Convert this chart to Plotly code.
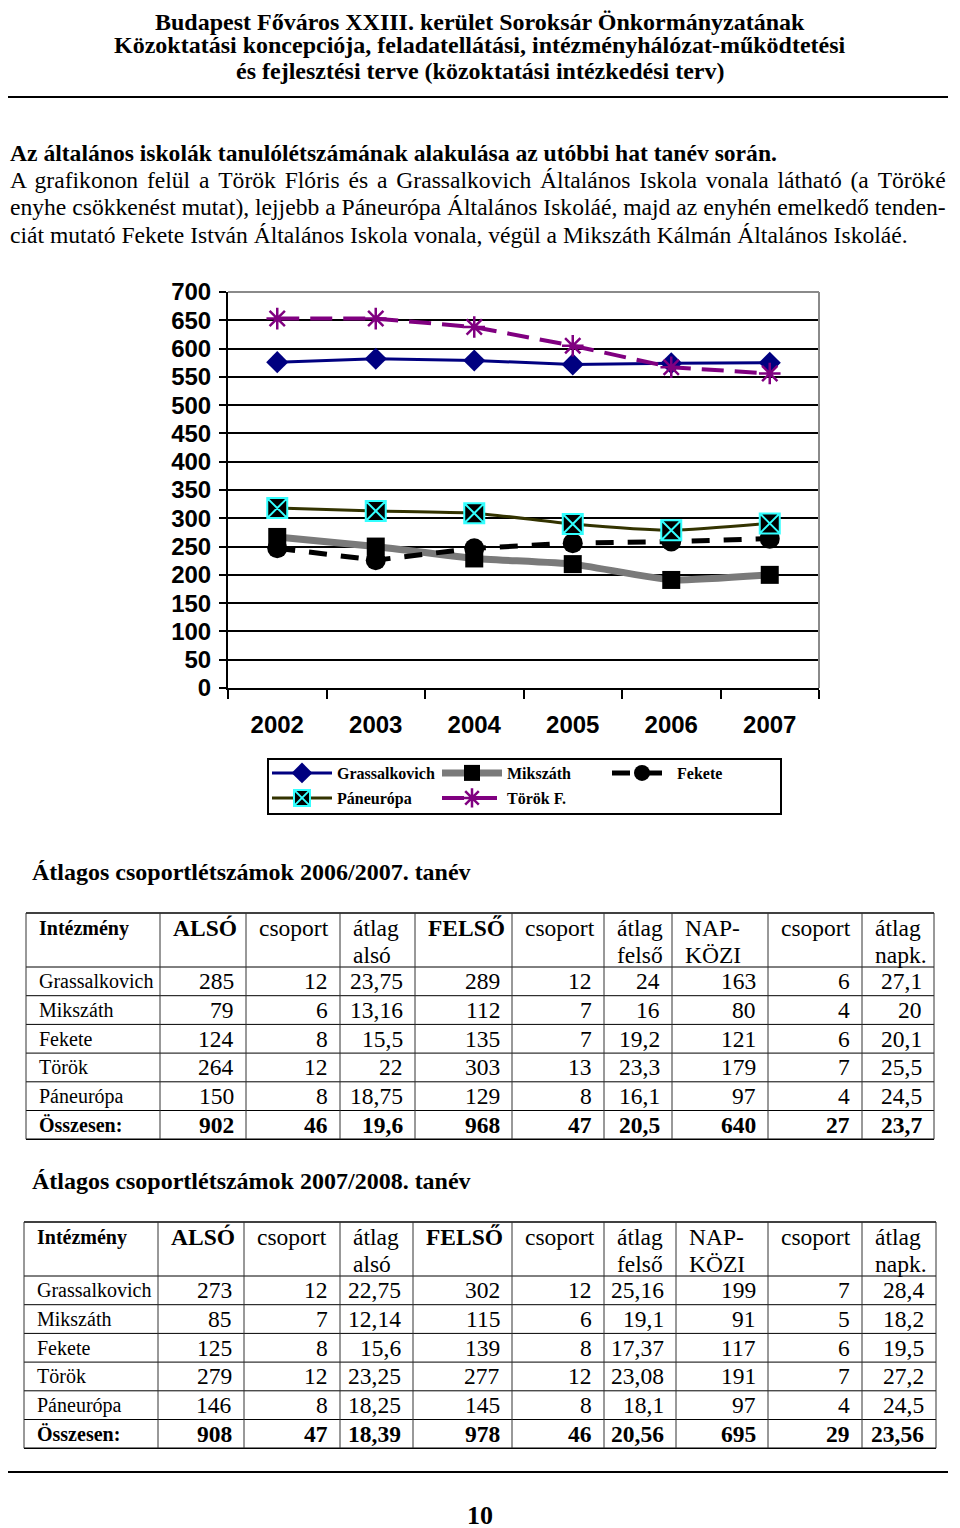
import plotly.graph_objects as go

W, H = 960, 1528
OFF = 8  # the page body margin places the figure 8px right/down

# ---------------- data ----------------
years = ["2002", "2003", "2004", "2005", "2006", "2007"]
grassalkovich = [576, 582, 579, 572, 574, 575]
mikszath = [267, 250, 229, 219, 191, 200]
fekete = [247, 226, 247, 256, 259, 264]
paneuropa = [318, 313, 309, 290, 279, 291]
torok = [653, 653, 638, 605, 567, 556]

y_ticks = list(range(0, 701, 50))

header_lines = [
    "Budapest Főváros XXIII. kerület Soroksár Önkormányzatának",
    "Közoktatási koncepciója, feladatellátási, intézményhálózat-működtetési",
    "és fejlesztési terve (közoktatási intézkedési terv)",
]
heading = "Az általános iskolák tanulólétszámának alakulása az utóbbi hat tanév során."
paragraph_lines = [
    "A grafikonon felül a Török Flóris és a Grassalkovich Általános Iskola vonala látható (a Töröké",
    "enyhe csökkenést mutat), lejjebb a Páneurópa Általános Iskoláé, majd az enyhén emelkedő tenden-",
    "ciát mutató Fekete István Általános Iskola vonala, végül a Mikszáth Kálmán Általános Iskoláé.",
]
table1_title = "Átlagos csoportlétszámok 2006/2007. tanév"
table2_title = "Átlagos csoportlétszámok 2007/2008. tanév"
page_number = "10"

table_header = [
    ["<b>Intézmény</b>"], ["<b>ALSÓ</b>"], ["csoport"], ["átlag", "alsó"],
    ["<b>FELSŐ</b>"], ["csoport"], ["átlag", "felső"], ["NAP-", "KÖZI"],
    ["csoport"], ["átlag", "napk."],
]
institutions = ["Grassalkovich", "Mikszáth", "Fekete", "Török", "Páneurópa", "Összesen:"]

t1_also = [285, 79, 124, 264, 150, 902]
t1_also_csop = [12, 6, 8, 12, 8, 46]
t1_also_atlag = [23.75, 13.16, 15.5, 22, 18.75, 19.6]
t1_felso = [289, 112, 135, 303, 129, 968]
t1_felso_csop = [12, 7, 7, 13, 8, 47]
t1_felso_atlag = [24, 16, 19.2, 23.3, 16.1, 20.5]
t1_napk = [163, 80, 121, 179, 97, 640]
t1_napk_csop = [6, 4, 6, 7, 4, 27]
t1_napk_atlag = [27.1, 20, 20.1, 25.5, 24.5, 23.7]

t2_also = [273, 85, 125, 279, 146, 908]
t2_also_csop = [12, 7, 8, 12, 8, 47]
t2_also_atlag = [22.75, 12.14, 15.6, 23.25, 18.25, 18.39]
t2_felso = [302, 115, 139, 277, 145, 978]
t2_felso_csop = [12, 6, 8, 12, 8, 46]
t2_felso_atlag = [25.16, 19.1, 17.37, 23.08, 18.1, 20.56]
t2_napk = [199, 91, 117, 191, 97, 695]
t2_napk_csop = [7, 5, 6, 7, 4, 29]
t2_napk_atlag = [28.4, 18.2, 19.5, 27.2, 24.5, 23.56]

# ---------------- helpers ----------------
def X(px):
    return (px - OFF) / W


def Y(py):
    return 1 - (py - OFF) / H


SERIF = "Liberation Serif"
SANS = "Liberation Sans"

annotations = []
shapes = []


def text(px, py, s, size=22, bold=False, anchor="left", family=SERIF):
    annotations.append(dict(
        x=X(px), y=Y(py), xref="paper", yref="paper", text=s, showarrow=False,
        xanchor=anchor, yanchor="middle",
        font=dict(family=family, size=size, color="black", weight="bold" if bold else "normal"),
    ))


def hline(x0, x1, py, width=1, color="black"):
    shapes.append(dict(type="line", xref="paper", yref="paper", x0=X(x0), x1=X(x1),
                       y0=Y(py), y1=Y(py), line=dict(color=color, width=width)))


def vline(px, y0, y1, width=1, color="black"):
    shapes.append(dict(type="line", xref="paper", yref="paper", x0=X(px), x1=X(px),
                       y0=Y(y0), y1=Y(y1), line=dict(color=color, width=width)))


def fmt(v):
    return str(v).replace(".", ",")


def justify(line, extra_px):
    # widen inter-word spaces a little (justified paragraph line)
    sp = f"<span style='font-size:{extra_px * 4:.1f}px'>\u00a0</span>"
    return line.replace(" ", " " + sp)


# ---------------- page text ----------------
for py, line in zip([22, 45, 71], header_lines):
    text(480, py, line, size=24, bold=True, anchor="center")
hline(OFF, 948, 97, width=2)
text(OFF, 153, heading, size=23.6, bold=True)
text(OFF, 180, justify(paragraph_lines[0], 2.9), size=23.6)
text(OFF, 207, paragraph_lines[1], size=23.6)
text(OFF, 235, paragraph_lines[2], size=23.6)

# ---------------- chart ----------------
px_left, px_right, px_top, px_bottom = 228, 819, 292, 688

fig = go.Figure()
fig.add_trace(go.Scatter(
    x=years, y=grassalkovich, name="Grassalkovich", mode="lines+markers", legend="legend",
    line=dict(color="#000080", width=3),
    marker=dict(symbol="diamond", size=17, color="#000080"),
))
fig.add_trace(go.Scatter(
    x=years, y=mikszath, name="Mikszáth", mode="lines+markers", legend="legend",
    line=dict(color="#7a7a7a", width=7, shape="spline", smoothing=0.4),
    marker=dict(symbol="square", size=18, color="black"),
))
fig.add_trace(go.Scatter(
    x=years, y=fekete, name="Fekete", mode="lines+markers", legend="legend",
    line=dict(color="black", width=5, dash="18px,14px"),
    marker=dict(symbol="circle", size=20, color="black"),
))
fig.add_trace(go.Scatter(
    x=years, y=paneuropa, name="Páneurópa", mode="lines+markers", legend="legend2",
    line=dict(color="#333300", width=3, shape="spline", smoothing=0.6),
    marker=dict(symbol="square-x", size=20, color="black", line=dict(color="#33ffff", width=2)),
))
fig.add_trace(go.Scatter(
    x=years, y=torok, name="Török F.", mode="lines+markers", legend="legend2",
    line=dict(color="#800080", width=4, dash="22px,11px"),
    marker=dict(symbol="asterisk-open", size=18, color="#800080", line=dict(color="#800080", width=2.5)),
))

# plot frame top/right (grey)
hline(px_left, px_right, px_top, width=2, color="#8a8a8a")
vline(px_right, px_top, px_bottom, width=2, color="#8a8a8a")

# legend box
shapes.append(dict(type="rect", xref="paper", yref="paper", x0=X(268), x1=X(781), y0=Y(759), y1=Y(814),
                   line=dict(color="black", width=2), fillcolor="rgba(0,0,0,0)"))

# ---------------- tables ----------------
def draw_table(top, cols_x, columns):
    header_h = 54
    row_h = 28.7
    n_rows = len(institutions)
    bottom = top + header_h + n_rows * row_h
    hline(cols_x[0], cols_x[-1], top, width=1.5)
    hline(cols_x[0], cols_x[-1], top + header_h, width=1)
    for r in range(1, n_rows):
        hline(cols_x[0], cols_x[-1], top + header_h + r * row_h, width=1)
    hline(cols_x[0], cols_x[-1], bottom, width=1.5)
    for cx in cols_x:
        vline(cx, top, bottom, width=1, color="#333333")
    for c, lines in enumerate(table_header):
        for li, s in enumerate(lines):
            text(cols_x[c] + 11, top + 15 + li * 27, s, size=20 if c == 0 else 23.5)
    for r in range(n_rows):
        cy = top + header_h + r * row_h + row_h / 2
        last = r == n_rows - 1
        name = institutions[r]
        text(cols_x[0] + 11, cy, f"<b>{name}</b>" if last else name, size=20)
        for c, col in enumerate(columns):
            v = fmt(col[r])
            text(cols_x[c + 2] - 10, cy, f"<b>{v}</b>" if last else v, size=23.5, anchor="right")
    return bottom


cols1 = [26, 160, 246, 340, 415, 512, 604, 672, 768, 862, 934]
text(30, 872, table1_title, size=24, bold=True)
draw_table(913, cols1, [t1_also, t1_also_csop, t1_also_atlag, t1_felso, t1_felso_csop,
                        t1_felso_atlag, t1_napk, t1_napk_csop, t1_napk_atlag])

cols2 = [24, 158, 244, 340, 413, 512, 604, 676, 768, 862, 936]
text(30, 1181, table2_title, size=24, bold=True)
draw_table(1222, cols2, [t2_also, t2_also_csop, t2_also_atlag, t2_felso, t2_felso_csop,
                         t2_felso_atlag, t2_napk, t2_napk_csop, t2_napk_atlag])

hline(OFF, 948, 1472, width=2)
text(480, 1515, page_number, size=26, bold=True, anchor="center")

legend_common = dict(
    orientation="h", xanchor="left", yanchor="middle", entrywidth=95, entrywidthmode="pixels",
    itemwidth=60, bgcolor="rgba(0,0,0,0)", borderwidth=0,
    font=dict(family=SERIF, size=16, color="black", weight="bold"),
)

fig.update_layout(
    width=W, height=H,
    margin=dict(l=0, r=0, t=0, b=0, autoexpand=False),
    paper_bgcolor="white", plot_bgcolor="white",
    showlegend=True,
    legend=dict(x=X(267), y=Y(773), **legend_common),
    legend2=dict(x=X(267), y=Y(798), **legend_common),
    xaxis=dict(
        domain=[X(px_left), X(px_right)], type="category", categoryorder="array",
        categoryarray=years, range=[-0.5, 5.5], tickson="boundaries", ticks="outside",
        ticklen=9, tickwidth=2, tickcolor="black", showline=True, linecolor="black", linewidth=2,
        showgrid=False, zeroline=False, ticklabelstandoff=14,
        tickfont=dict(family=SANS, size=24, color="black", weight="bold"),
    ),
    yaxis=dict(
        domain=[Y(px_bottom), Y(px_top)], range=[0, 700], tickvals=y_ticks, ticks="outside",
        ticklen=7, tickwidth=2, tickcolor="black", showline=True, linecolor="black", linewidth=2,
        showgrid=True, gridcolor="black", gridwidth=2, zeroline=False, ticklabelstandoff=3,
        tickfont=dict(family=SANS, size=24, color="black", weight="bold"),
    ),
    annotations=annotations,
    shapes=shapes,
)

fig.write_html("out.html")
